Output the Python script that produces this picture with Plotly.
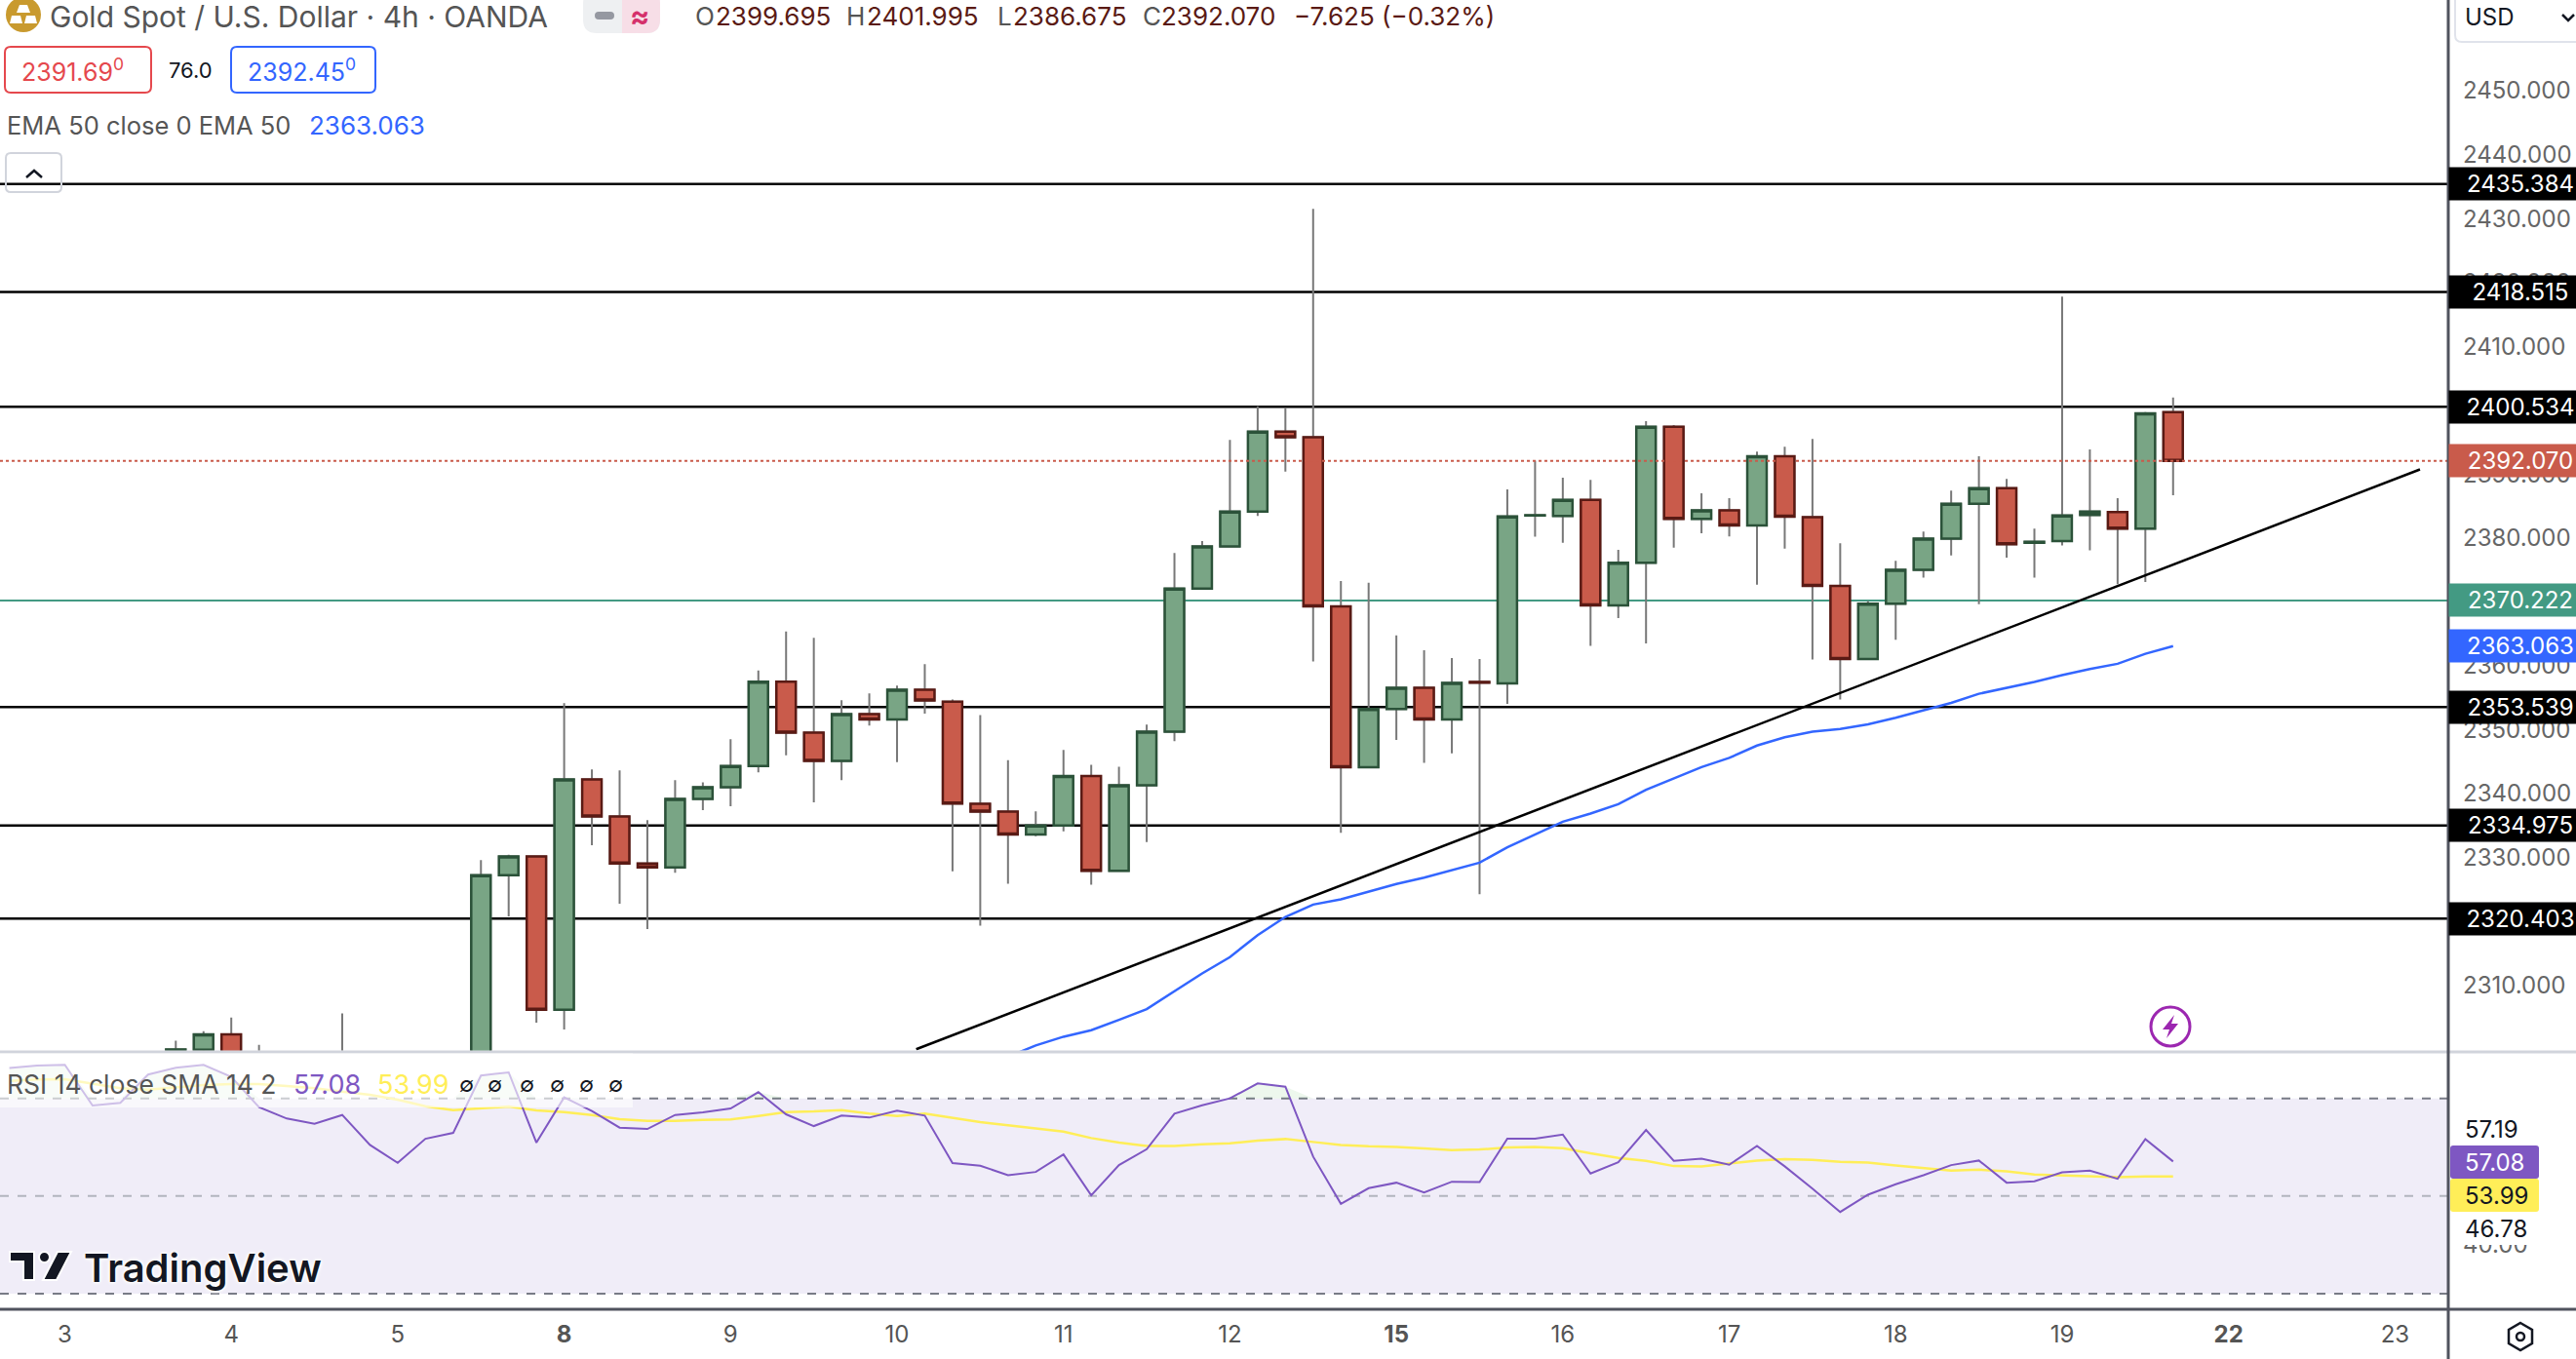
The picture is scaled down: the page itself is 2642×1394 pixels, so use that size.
from plotly.subplots import make_subplots
import plotly.graph_objects as go


bar_index = list(range(4, 77))
open_prices = [2299.8, 2299.9, 2302.29, 2296, 2294, 2296, 2293, 2296, 2291, 2288, 2290, 2286, 2327.23, 2330.13, 2306.16, 2342.19, 2336.39, 2329.06, 2328.45, 2339.14, 2340.97, 2344.3, 2357.5, 2349.53, 2345.11, 2352.42, 2351.6, 2356.23, 2354.38, 2338.37, 2337.15, 2333.6, 2334.975, 2342.72, 2327.9, 2341.3, 2349.69, 2372.08, 2378.68, 2384.13, 2396.65, 2395.77, 2369.29, 2344.1, 2353.23, 2356.56, 2351.59, 2357.45, 2357.24, 2383.5, 2383.45, 2385.97, 2369.43, 2376.1, 2397.4, 2382.97, 2384.33, 2381.95, 2392.77, 2383.25, 2372.49, 2361.05, 2369.7, 2375.01, 2379.91, 2385.35, 2387.8, 2379.25, 2379.5, 2383.6, 2384.06, 2381.47, 2399.695]
high_prices = [2301.3, 2302.8, 2304.94, 2300.66, 2297, 2298, 2305.6, 2298, 2294, 2292, 2296, 2329.57, 2330.43, 2330.13, 2354.15, 2343.77, 2343.62, 2335.83, 2342.09, 2341.73, 2348.5, 2359.27, 2365.37, 2364.35, 2354.6, 2355.67, 2356.89, 2360.24, 2354.72, 2352.27, 2345.2, 2337.2, 2346.82, 2344.49, 2344.19, 2350.78, 2377.66, 2379.5, 2395.36, 2400.6, 2400.33, 2431.51, 2373.24, 2372.97, 2364.73, 2362.42, 2361.19, 2361.05, 2387.6, 2392.1, 2389.44, 2389.1, 2378.14, 2398.29, 2397.68, 2386.99, 2386.24, 2393.52, 2394.27, 2395.5, 2379.16, 2370.11, 2376.44, 2381.0, 2387.4, 2392.77, 2389.24, 2381.47, 2417.76, 2393.86, 2386.24, 2399.7, 2401.995]
low_prices = [2299, 2299, 2296, 2293, 2292, 2291, 2290, 2289, 2286, 2285, 2284, 2284, 2320.76, 2304.12, 2303.05, 2331.91, 2322.75, 2318.78, 2327.58, 2337.4, 2338.0, 2343.3, 2345.97, 2338.6, 2342.1, 2350.65, 2344.9, 2352.52, 2327.84, 2319.33, 2325.86, 2333.3, 2334.06, 2325.71, 2327.9, 2332.4, 2348.19, 2371.88, 2378.68, 2383.45, 2390.39, 2360.65, 2333.83, 2344.1, 2348.39, 2344.78, 2346.28, 2324.24, 2354.04, 2380.18, 2379.23, 2363.1, 2367.45, 2363.5, 2378.48, 2380.73, 2380.25, 2372.69, 2378.34, 2360.98, 2354.72, 2361.05, 2364.05, 2373.78, 2377.25, 2369.63, 2376.91, 2373.78, 2378.82, 2378.07, 2372.76, 2373.1, 2386.675]
close_prices = [2299.95, 2302.29, 2296, 2294, 2296, 2293, 2296, 2291, 2288, 2290, 2286, 2327.23, 2330.13, 2306.16, 2342.19, 2336.39, 2329.06, 2328.45, 2339.14, 2340.97, 2344.3, 2357.5, 2349.53, 2345.11, 2352.42, 2351.6, 2356.23, 2354.55, 2338.42, 2337.15, 2333.6, 2334.975, 2342.72, 2327.9, 2341.3, 2349.69, 2372.08, 2378.68, 2384.13, 2396.65, 2395.77, 2369.29, 2344.1, 2353.23, 2356.56, 2351.59, 2357.31, 2357.35, 2383.38, 2383.55, 2385.97, 2369.43, 2376.1, 2397.4, 2382.97, 2384.33, 2381.95, 2392.77, 2383.31, 2372.49, 2361.05, 2369.7, 2375.01, 2379.91, 2385.35, 2387.8, 2379.02, 2379.4, 2383.52, 2384.13, 2381.47, 2399.51, 2392.07]

ema_index = list(range(34, 77))
ema_values = [2298.8, 2300.56, 2301.93, 2302.95, 2304.57, 2306.25, 2309.05, 2311.84, 2314.39, 2317.84, 2320.69, 2322.62, 2323.43, 2324.65, 2325.83, 2326.84, 2328.0, 2329.18, 2331.57, 2333.55, 2335.58, 2336.86, 2338.33, 2340.57, 2342.3, 2344.14, 2345.58, 2347.5, 2348.8, 2349.69, 2350.09, 2350.84, 2351.86, 2353.02, 2354.18, 2355.61, 2356.56, 2357.45, 2358.53, 2359.49, 2360.3, 2361.87, 2363.063]

trend_index = [30.69, 84.9]
trend_values = [2299.97, 2390.73]

level_prices = [2435.384, 2418.515, 2400.534, 2353.539, 2334.975, 2320.403]
support_price = 2370.222
last_price = 2392.07
ema_last = 2363.063

rsi_index = list(range(-2, 77))
rsi_values = [76.2, 76.73, 76.87, 68.53, 69.07, 74.87, 76.27, 76.87, 74.4, 68.2, 65.87, 64.8, 66.6, 60.47, 56.8, 61.73, 62.93, 74.67, 75.33, 60.93, 70.2, 67.4, 64.0, 63.73, 66.6, 67.13, 67.93, 71.27, 66.73, 64.33, 66.47, 66.07, 67.47, 66.47, 56.73, 56.2, 54.27, 54.93, 58.53, 50.13, 56.33, 59.6, 66.87, 68.6, 70.0, 73.07, 72.4, 58.07, 48.4, 51.6, 52.73, 50.73, 52.93, 52.87, 61.73, 61.73, 62.6, 54.6, 56.93, 63.53, 57.2, 57.67, 56.4, 60.27, 56.07, 51.53, 46.73, 50.27, 52.4, 54.27, 56.33, 57.27, 52.73, 53.0, 54.87, 55.2, 53.53, 61.67, 57.08]
sma_values = [73.6, 73.87, 73.93, 72.93, 72.07, 71.8, 72.2, 72.73, 72.93, 72.93, 72.53, 72.07, 71.4, 70.73, 69.73, 68.4, 67.6, 67.93, 68.33, 67.53, 67.2, 66.6, 65.73, 65.4, 65.4, 65.6, 65.67, 66.4, 67.2, 67.33, 67.6, 66.87, 66.4, 66.87, 65.93, 65.13, 64.47, 63.8, 63.2, 61.87, 60.93, 60.27, 60.27, 60.6, 60.8, 61.33, 61.67, 61.07, 60.47, 60.2, 60.07, 59.73, 59.4, 59.53, 59.93, 60.07, 59.8, 58.73, 57.8, 57.2, 56.13, 56.07, 56.6, 57.27, 57.53, 57.4, 57.0, 56.87, 56.27, 55.67, 55.2, 55.4, 55.07, 54.4, 54.2, 54.0, 53.87, 54.0, 53.99]
rsi_levels = [70, 50, 30]

day_ticks = [0, 6, 12, 18, 24, 30, 36, 42, 48, 54, 60, 66, 72, 78, 84]
day_labels = ["3", "4", "5", "<b>8</b>", "9", "10", "11", "12", "<b>15</b>", "16", "17", "18", "19", "<b>22</b>", "23"]
price_ticks = [2310, 2320, 2330, 2340, 2350, 2360, 2370, 2380, 2390, 2400, 2410, 2420, 2430, 2440, 2450]
rsi_ticks = [40]
bar_range = [-2.337, 85.92]

FONT = "Inter"


class Chart_analysis:

    def __init__(self) -> None:
        self.fig = make_subplots(rows=2, cols=1,
                                 shared_xaxes=True,
                                 vertical_spacing=0.0006,
                                 row_heights=[0.803, 0.197])


    def xp(self, x):
        return x / 2511


    def yp(self, y):
        return 1 - y / 1343


    def text(self, x, y, text, color="#555555", size=24, anchor="left", **kwargs):
        self.fig.add_annotation(x=self.xp(x), y=self.yp(y), xref="paper", yref="paper",
                                text=text, showarrow=False, xanchor=anchor, yanchor="middle",
                                font=dict(family=FONT, size=size, color=color, **kwargs), borderpad=0)


    def tag(self, y, yref, text, bg, color="white"):
        self.fig.add_annotation(x=1, y=y, xref="paper", yref=yref, text=text, showarrow=False,
                                xanchor="left", yanchor="middle", width=146, height=33, align="center",
                                bgcolor=bg, borderpad=0, font=dict(family=FONT, size=24, color=color))


    def poly(self, points, color, line_color=None, width=0):
        path = "M " + " L ".join(f"{self.xp(x)},{self.yp(y)}" for x, y in points) + " Z"
        self.fig.add_shape(type="path", path=path, xref="paper", yref="paper", fillcolor=color,
                           line=dict(color=line_color or color, width=width))


    def round_box(self, x0, y0, x1, y1, r, line, fill=None, width=2):
        xp, yp = self.xp, self.yp
        path = (f"M {xp(x0 + r)},{yp(y0)} L {xp(x1 - r)},{yp(y0)} Q {xp(x1)},{yp(y0)} {xp(x1)},{yp(y0 + r)} "
                f"L {xp(x1)},{yp(y1 - r)} Q {xp(x1)},{yp(y1)} {xp(x1 - r)},{yp(y1)} "
                f"L {xp(x0 + r)},{yp(y1)} Q {xp(x0)},{yp(y1)} {xp(x0)},{yp(y1 - r)} "
                f"L {xp(x0)},{yp(y0 + r)} Q {xp(x0)},{yp(y0)} {xp(x0 + r)},{yp(y0)} Z")
        self.fig.add_shape(type="path", path=path, xref="paper", yref="paper",
                           fillcolor=fill or "rgba(0,0,0,0)", line=dict(color=line, width=width))


    def price_pane(self) -> None:
        fig = self.fig

        for price in level_prices:
            fig.add_shape(type="line", x0=bar_range[0], x1=bar_range[1], y0=price, y1=price,
                          line=dict(color="#000000", width=2.5), layer="below", row=1, col=1)
        fig.add_shape(type="line", x0=bar_range[0], x1=bar_range[1], y0=support_price, y1=support_price,
                      line=dict(color="#439A83", width=2), layer="below", row=1, col=1)

        # wicks are grey, so the bodies go on top in a second trace
        fig.add_trace(go.Candlestick(x=bar_index, open=open_prices, high=high_prices, low=low_prices, close=close_prices,
                                     increasing=dict(line=dict(color="#787878", width=2), fillcolor="#79A585"),
                                     decreasing=dict(line=dict(color="#787878", width=2), fillcolor="#C95B4B"),
                                     whiskerwidth=0, hoverinfo="skip", showlegend=False),
                      row=1, col=1)
        fig.add_trace(go.Candlestick(x=bar_index, open=open_prices, close=close_prices,
                                     high=[max(o, c) for o, c in zip(open_prices, close_prices)],
                                     low=[min(o, c) for o, c in zip(open_prices, close_prices)],
                                     increasing=dict(line=dict(color="#2B5239", width=2.5), fillcolor="#79A585"),
                                     decreasing=dict(line=dict(color="#5A1A14", width=2.5), fillcolor="#C95B4B"),
                                     whiskerwidth=0, hoverinfo="skip", showlegend=False),
                      row=1, col=1)

        fig.add_trace(go.Scatter(x=ema_index, y=ema_values, mode="lines", line=dict(color="#3366FF", width=2.5),
                                 hoverinfo="skip", showlegend=False), row=1, col=1)
        fig.add_trace(go.Scatter(x=trend_index, y=trend_values, mode="lines", line=dict(color="#000000", width=2.5),
                                 hoverinfo="skip", showlegend=False), row=1, col=1)
        fig.add_hline(y=last_price, line_color="#C95B4B", line_width=2, line_dash="dot", row=1, col=1)


    def rsi_pane(self) -> None:
        fig = self.fig

        fig.add_shape(type="rect", x0=bar_range[0], x1=bar_range[1], y0=rsi_levels[2], y1=rsi_levels[0],
                      fillcolor="#F0EDF8", line_width=0, layer="below", row=2, col=1)
        for level, color in zip(rsi_levels, ["#787B86", "#B2B5BE", "#787B86"]):
            fig.add_shape(type="line", x0=bar_range[0], x1=bar_range[1], y0=level, y1=level,
                          line=dict(color=color, width=2, dash="dash"), layer="below", row=2, col=1)

        # faint green under the part of the line above 70
        fig.add_trace(go.Scatter(x=rsi_index, y=[rsi_levels[0]] * len(rsi_index), mode="lines", line=dict(width=0),
                                 hoverinfo="skip", showlegend=False), row=2, col=1)
        fig.add_trace(go.Scatter(x=rsi_index, y=[max(v, rsi_levels[0]) for v in rsi_values], mode="lines", line=dict(width=0),
                                 fill="tonexty", fillcolor="rgba(76,175,80,0.10)", hoverinfo="skip", showlegend=False), row=2, col=1)

        fig.add_trace(go.Scatter(x=rsi_index, y=sma_values, mode="lines", line=dict(color="#FFEE58", width=2.5),
                                 hoverinfo="skip", showlegend=False), row=2, col=1)
        fig.add_trace(go.Scatter(x=rsi_index, y=rsi_values, mode="lines", line=dict(color="#7E57C2", width=2),
                                 hoverinfo="skip", showlegend=False), row=2, col=1)


    def axes(self) -> None:
        fig = self.fig
        fig.update_xaxes(rangeslider={'visible': False}, row=1, col=1)
        fig.update_xaxes(range=bar_range, showgrid=False, zeroline=False, showticklabels=False, ticks="")
        fig.update_xaxes(showticklabels=True, tickmode="array", tickvals=day_ticks, ticktext=day_labels,
                         tickfont=dict(family=FONT, size=24, color="#555555"), ticklabelstandoff=9, row=2, col=1)
        fig.update_yaxes(side="right", showgrid=False, zeroline=False, ticks="", ticklabelstandoff=14)
        fig.update_yaxes(range=[2299.74, 2464.2], tickmode="array", tickvals=price_ticks,
                         ticktext=[f"{t}.000" for t in price_ticks],
                         tickfont=dict(family=FONT, size=24, color="#666666"), row=1, col=1)
        fig.update_yaxes(range=[26.8, 79.6], tickmode="array", tickvals=rsi_ticks,
                         ticktext=[f"{t}.00" for t in rsi_ticks],
                         tickfont=dict(family=FONT, size=24, color="#666666"), row=2, col=1)
        fig.update_layout(height=1394, width=2642, paper_bgcolor="#FFFFFF", plot_bgcolor="#FFFFFF",
                          boxgap=0.3, boxgroupgap=0,
                          margin=dict(l=0, r=131, t=0, b=51), showlegend=False)


    def frame(self) -> None:
        fig = self.fig
        xp, yp = self.xp, self.yp

        # pane borders
        fig.add_shape(type="line", x0=0, x1=xp(2642), y0=yp(1079), y1=yp(1079), xref="paper", yref="paper",
                      line=dict(color="#D1D4DC", width=3))
        fig.add_shape(type="line", x0=0, x1=xp(2642), y0=yp(1343), y1=yp(1343), xref="paper", yref="paper",
                      line=dict(color="#50535E", width=3))
        fig.add_shape(type="line", x0=1, x1=1, y0=yp(0), y1=yp(1394), xref="paper", yref="paper",
                      line=dict(color="#50535E", width=3))

        # price labels on the scale
        for price in level_prices:
            self.tag(price, "y", f"{price:.3f}", "#000000")
        self.tag(support_price, "y", f"{support_price:.3f}", "#439A83")
        self.tag(last_price, "y", f"{last_price:.3f}", "#C95B4B")
        self.tag(ema_last, "y", f"{ema_last:.3f}", "#3366FF")

        # rsi labels
        fig.add_shape(type="rect", x0=xp(2513), x1=xp(2604), y0=yp(1141), y1=yp(1277), xref="paper", yref="paper",
                      fillcolor="#FFFFFF", line_width=0)
        self.round_box(2513, 1175, 2604, 1209, 3, "#7E57C2", "#7E57C2", 0)
        self.round_box(2513, 1209, 2604, 1243, 3, "#FFEE58", "#FFEE58", 0)
        self.text(2527, 1158, "57.19", "#131722")
        self.text(2527, 1192, "57.08", "#FFFFFF")
        self.text(2527, 1226, "53.99", "#131722")
        self.text(2527, 1260, "46.78", "#131722")

        # currency box
        self.round_box(2518, -10, 2660, 43, 7, "#E0E3EB")
        self.text(2527, 18, "USD", "#131722")
        self.poly([(2628, 15), (2634, 21), (2640, 15), (2634, 21)], "#131722", "#131722", 2.5)

        # settings icon
        self.poly([(2585, 1357), (2597, 1364), (2597, 1378), (2585, 1385), (2573, 1378), (2573, 1364)],
                  "rgba(0,0,0,0)", "#131722", 2.5)
        fig.add_shape(type="circle", x0=xp(2581), x1=xp(2589), y0=yp(1367), y1=yp(1375), xref="paper", yref="paper",
                      line=dict(color="#131722", width=2.5))

        # lightning badge
        fig.add_shape(type="circle", x0=xp(2206), x1=xp(2246), y0=yp(1033), y1=yp(1073), xref="paper", yref="paper",
                      fillcolor="#FFFFFF", line=dict(color="#9C27B0", width=3))
        self.poly([(2230, 1041), (2218, 1056), (2225, 1056), (2222, 1065), (2234, 1050), (2227, 1050)], "#9C27B0")


    def header(self) -> None:
        fig = self.fig
        xp, yp = self.xp, self.yp

        # symbol icon
        fig.add_shape(type="circle", x0=xp(6), x1=xp(42), y0=yp(-3), y1=yp(33), xref="paper", yref="paper",
                      fillcolor="#C99A2E", line_width=0)
        self.poly([(20, 5), (28, 5), (31, 13), (17, 13)], "#FFFFFF")
        self.poly([(12, 16), (21, 16), (23, 24), (10, 24)], "#FFFFFF")
        self.poly([(27, 16), (36, 16), (38, 24), (25, 24)], "#FFFFFF")
        self.text(50, 17, "Gold Spot / U.S. Dollar · 4h · OANDA", size=30)

        # market status pill
        self.round_box(598, -10, 677, 34, 14, "#EEF0F2", "#EEF0F2", 0)
        self.round_box(640, -10, 677, 34, 14, "#F7DEE7", "#F7DEE7", 0)
        fig.add_shape(type="rect", x0=xp(638), x1=xp(652), y0=yp(-10), y1=yp(34), xref="paper", yref="paper",
                      fillcolor="#F7DEE7", line_width=0)
        self.round_box(610, 12, 630, 20, 4, "#9598A1", "#9598A1", 0)
        self.text(656, 16, "≈", "#D5306B", 30, "center", weight=700)

        # ohlc values
        value_color = "#5A1A14"
        for letter, x, value, vx in [("O", 712, "2399.695", 733), ("H", 867, "2401.995", 888),
                                     ("L", 1022, "2386.675", 1038), ("C", 1171, "2392.070", 1190)]:
            self.text(x, 17, letter, "#555555", 26)
            self.text(vx, 17, value, value_color, 26)
        self.text(1326, 17, "−7.625 (−0.32%)", value_color, 26)

        # bid and ask
        self.round_box(5, 48, 155, 95, 6, "#E5484D")
        self.text(21, 72, "2391.69<sup>0</sup>", "#E5484D", 25)
        self.text(172, 72, "76.0", "#131722", 22)
        self.round_box(237, 48, 385, 95, 6, "#3366FF")
        self.text(253, 72, "2392.45<sup>0</sup>", "#3366FF", 25)

        self.text(6, 129, "EMA 50 close 0 EMA 50", "#555555", 25.5)
        self.text(316, 129, "2363.063", "#3366FF", 26)

        self.round_box(6, 157, 63, 197, 5, "#D1D4DC")
        self.poly([(27, 182), (35, 175), (43, 182), (35, 175)], "#131722", "#131722", 2.5)


    def rsi_legend(self) -> None:
        fig = self.fig
        xp, yp = self.xp, self.yp

        fig.add_shape(type="rect", x0=0, x1=xp(649), y0=yp(1080.5), y1=yp(1136), xref="paper", yref="paper",
                      fillcolor="rgba(255,255,255,0.62)", line_width=0)
        self.text(6, 1112, "RSI 14 close SMA 14 2", "#555555", 26.5)
        self.text(300, 1112, "57.08", "#7E57C2", 27)
        self.text(386, 1112, "53.99", "#FFEE58", 27)
        for x in [478, 508, 540, 571, 601, 631]:
            self.text(x, 1112, "∅", "#131722", 22, "center")

        # watermark
        halo = "0 0 3px #fff, 0 0 3px #fff, 0 0 5px #fff, 0 0 5px #fff"
        self.poly([(10, 1284), (35, 1284), (35, 1313), (24, 1313), (24, 1294), (10, 1294)], "#131722", "#FFFFFF", 2)
        fig.add_shape(type="circle", x0=xp(40), x1=xp(51), y0=yp(1284), y1=yp(1295), xref="paper", yref="paper",
                      fillcolor="#131722", line=dict(color="#FFFFFF", width=2))
        self.poly([(59, 1284), (73, 1284), (58, 1313), (44, 1313)], "#131722", "#FFFFFF", 2)
        self.text(85, 1300, "TradingView", "#131722", 40, weight=600, shadow=halo)


    def candle_stick_analysis(self) -> None:
        self.price_pane()
        self.rsi_pane()
        self.axes()
        self.frame()
        self.header()
        self.rsi_legend()

        self.fig.write_html("out.html", config={'displayModeBar': False},
                            post_script="document.body.style.margin='0';document.body.style.overflow='hidden';")


Chart_analysis().candle_stick_analysis()
